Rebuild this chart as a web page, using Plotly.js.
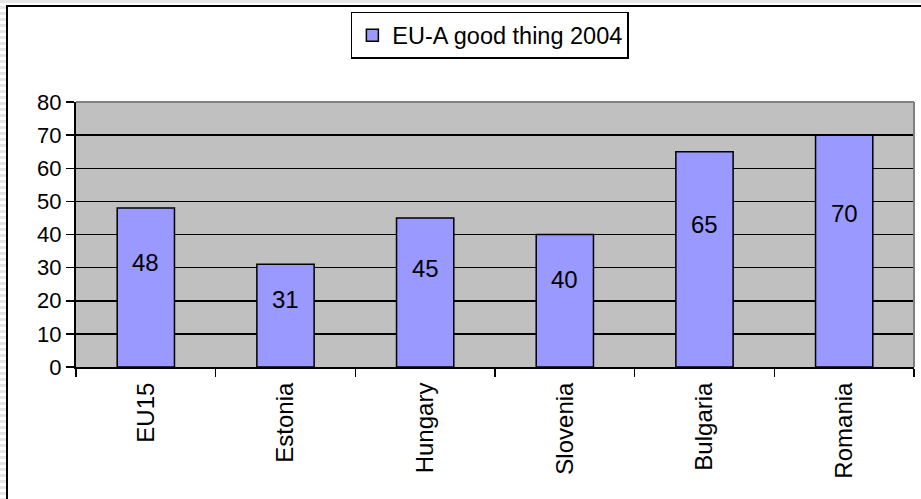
<!DOCTYPE html>
<html>
<head>
<meta charset="utf-8">
<script src="https://cdn.plot.ly/plotly-3.0.1.min.js"></script>
<style>
html,body{margin:0;padding:0;background:#fff;}
#frame{position:absolute;left:0;top:0;width:921px;height:499px;
 background:repeating-linear-gradient(180deg,#e6e6e6 0px,#e6e6e6 3px,#ffffff 3px,#ffffff 6px);}
#inner{position:absolute;left:6px;top:5px;width:915px;height:494px;background:#fff;
 border-left:2px solid #000;border-top:2px solid #000;box-sizing:border-box;}
#chart{position:absolute;left:0;top:0;width:921px;height:499px;}
</style>
</head>
<body>
<div id="frame"></div>
<div id="inner"></div>
<div id="chart"></div>
<script>
const categories = ["EU15","Estonia","Hungary","Slovenia","Bulgaria","Romania"];
const values = [48,31,45,40,65,70];
const seriesName = "EU-A good thing 2004";
const yTicks = [0,10,20,30,40,50,60,70,80];

const fam = "Liberation Sans, Arial, sans-serif";
const font = {family:fam, size:22, color:"#000"};
const labelFont = {family:fam, size:24, color:"#000"};
const legendFont = {family:fam, size:23.5, color:"#000"};
const catFont = {family:fam, size:24, color:"#000"};

// data labels sit a bit above the bar middle, as in the source chart
const labelFrac = 0.66;

const trace = {
  type:"bar",
  x:categories,
  y:values,
  name:seriesName,
  marker:{color:"#9999FF", line:{color:"#000", width:1.5}},
  showlegend:true,
  hoverinfo:"none"
};

const annotations = categories.map((c,i)=>({
  x:c, y:values[i]*labelFrac, xref:"x", yref:"y",
  text:String(values[i]), showarrow:false,
  xanchor:"center", yanchor:"middle",
  font:labelFont
}));

const layout = {
  width:921, height:499,
  margin:{l:76, r:7, t:102, b:132},
  paper_bgcolor:"rgba(0,0,0,0)",
  plot_bgcolor:"#C0C0C0",
  font:font,
  bargap:0.59,
  showlegend:true,
  legend:{
    x:0.328, y:1.34, xanchor:"left", yanchor:"top",
    bgcolor:"#fff", bordercolor:"#000", borderwidth:1.5,
    font:legendFont, orientation:"h"
  },
  annotations:annotations,
  xaxis:{
    type:"category",
    tickson:"boundaries",
    ticks:"outside", ticklen:8, tickwidth:1.5, tickcolor:"#000",
    tickangle:-90,
    showgrid:false,
    showline:true, linecolor:"#000", linewidth:2,
    tickfont:catFont,
    ticklabelstandoff:4
  },
  yaxis:{
    range:[0,80],
    tickvals:yTicks,
    ticks:"outside", ticklen:8, tickwidth:1.5, tickcolor:"#000",
    showgrid:true, gridcolor:"#000", gridwidth:1.5,
    showline:true, linecolor:"#000", linewidth:2,
    zeroline:false,
    tickfont:font
  },
  shapes:[
    {type:"line", xref:"paper", yref:"paper", x0:0, x1:1, y0:1, y1:1, line:{color:"#808080", width:2}},
    {type:"line", xref:"paper", yref:"paper", x0:1, x1:1, y0:0, y1:1, line:{color:"#808080", width:2}}
  ]
};

Plotly.newPlot("chart",[trace],layout,{displayModeBar:false, staticPlot:true});
</script>
</body>
</html>
